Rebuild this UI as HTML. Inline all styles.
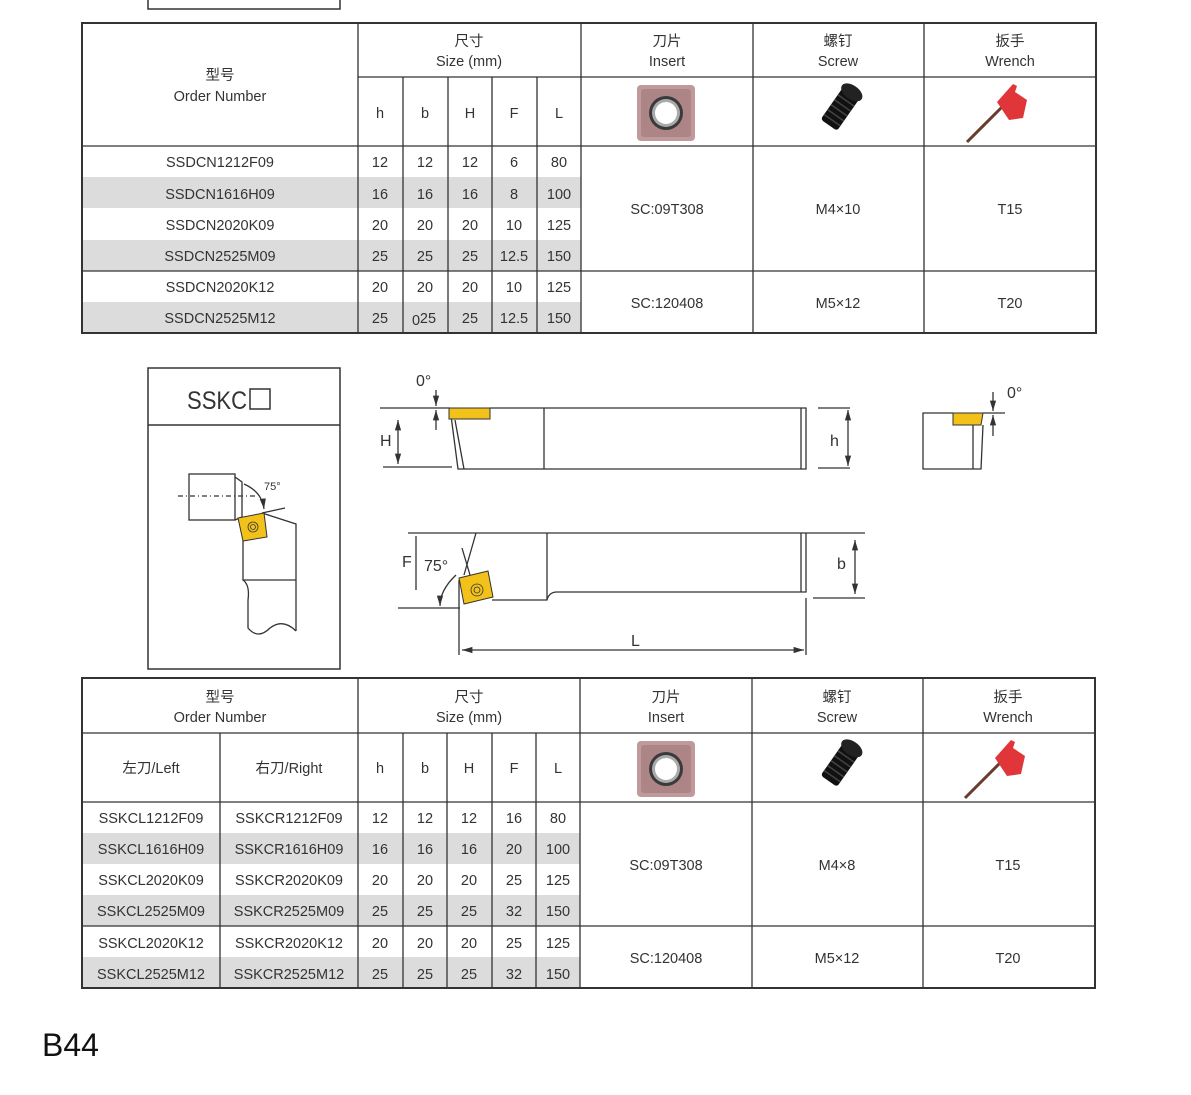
<!DOCTYPE html>
<html><head><meta charset="utf-8"><style>
html,body{margin:0;padding:0;background:#fff;}
svg{display:block}
text{font-family:"Liberation Sans","Noto Sans CJK SC",sans-serif;fill:#333;font-size:14.5px;}
</style></head><body>
<svg width="1191" height="1095" viewBox="0 0 1191 1095" xmlns="http://www.w3.org/2000/svg">
<defs>
<marker id="ar" viewBox="0 0 10 10" refX="10" refY="5" markerWidth="8" markerHeight="8" orient="auto-start-reverse"><path d="M0,2 L10,5 L0,8 z" fill="#333"/></marker>
<g id="insert">
<rect x="-29" y="-28" width="58" height="56" rx="4" fill="#c09a9b"/>
<rect x="-25" y="-24" width="50" height="48" rx="3" fill="#ae8586"/>
<circle r="17" fill="#3a3a3a"/><circle r="14" fill="#aaa"/><circle r="11" fill="#fff"/>
</g>
<g id="screw">
<g transform="rotate(35)">
<rect x="-10" y="-24" width="20" height="40" rx="3" fill="#111"/>
<ellipse cx="0" cy="-24" rx="12" ry="7" fill="#222"/>
<path d="M-10,-14 H10 M-10,-8 H10 M-10,-2 H10 M-10,4 H10 M-10,10 H10" stroke="#444" stroke-width="1.5"/>
</g></g>
<g id="wrench">
<line x1="-38" y1="30" x2="-2" y2="-6" stroke="#6a3a2a" stroke-width="3"/>
<path d="M-8,-10 L8,-28 L12,-26 L10,-20 L22,-12 L18,6 L4,8 z" fill="#e0363a"/>
</g>
</defs>

<path d="M148,0 V9 H340 V0" fill="none" stroke="#333" stroke-width="1.5"/>

<!-- TABLE 1 -->
<rect x="82" y="177" width="499" height="31" fill="#dcdcdc"/>
<rect x="82" y="240" width="499" height="31" fill="#dcdcdc"/>
<rect x="82" y="302" width="499" height="31" fill="#dcdcdc"/>
<g stroke="#333" stroke-width="1.3" fill="none">
<rect x="82" y="23" width="1014" height="310" stroke-width="2"/>
<line x1="358" y1="77" x2="1096" y2="77"/>
<line x1="82" y1="146" x2="1096" y2="146"/>
<line x1="82" y1="271" x2="1096" y2="271"/>
<line x1="358" y1="23" x2="358" y2="333"/>
<line x1="403" y1="77" x2="403" y2="333"/>
<line x1="448" y1="77" x2="448" y2="333"/>
<line x1="492" y1="77" x2="492" y2="333"/>
<line x1="537" y1="77" x2="537" y2="333"/>
<line x1="581" y1="23" x2="581" y2="333"/>
<line x1="753" y1="23" x2="753" y2="333"/>
<line x1="924" y1="23" x2="924" y2="333"/>
</g>
<g text-anchor="middle">
<text x="220" y="80">型号</text><text x="220" y="101">Order Number</text>
<text x="469" y="46">尺寸</text><text x="469" y="66">Size  (mm)</text>
<text x="667" y="46">刀片</text><text x="667" y="66">Insert</text>
<text x="838" y="46">螺钉</text><text x="838" y="66">Screw</text>
<text x="1010" y="46">扳手</text><text x="1010" y="66">Wrench</text>
<text x="380" y="118">h</text><text x="425" y="118">b</text><text x="470" y="118">H</text><text x="514" y="118">F</text><text x="559" y="118">L</text>
<text x="220" y="167">SSDCN1212F09</text><text x="380" y="167">12</text><text x="425" y="167">12</text><text x="470" y="167">12</text><text x="514" y="167">6</text><text x="559" y="167">80</text>
<text x="220" y="199">SSDCN1616H09</text><text x="380" y="199">16</text><text x="425" y="199">16</text><text x="470" y="199">16</text><text x="514" y="199">8</text><text x="559" y="199">100</text>
<text x="220" y="230">SSDCN2020K09</text><text x="380" y="230">20</text><text x="425" y="230">20</text><text x="470" y="230">20</text><text x="514" y="230">10</text><text x="559" y="230">125</text>
<text x="220" y="261">SSDCN2525M09</text><text x="380" y="261">25</text><text x="425" y="261">25</text><text x="470" y="261">25</text><text x="514" y="261">12.5</text><text x="559" y="261">150</text>
<text x="220" y="292">SSDCN2020K12</text><text x="380" y="292">20</text><text x="425" y="292">20</text><text x="470" y="292">20</text><text x="514" y="292">10</text><text x="559" y="292">125</text>
<text x="220" y="323">SSDCN2525M12</text><text x="380" y="323">25</text><text x="416" y="325">0</text><text x="428" y="323">25</text><text x="470" y="323">25</text><text x="514" y="323">12.5</text><text x="559" y="323">150</text>
<text x="667" y="214">SC:09T308</text><text x="838" y="214">M4×10</text><text x="1010" y="214">T15</text>
<text x="667" y="308">SC:120408</text><text x="838" y="308">M5×12</text><text x="1010" y="308">T20</text>
</g>
<use href="#insert" x="666" y="113"/>
<use href="#screw" x="838" y="112"/>
<use href="#wrench" x="1005" y="112"/>

<!-- SIDE BOX -->
<g stroke="#333" fill="none" stroke-width="1.5">
<rect x="148" y="368" width="192" height="301"/>
<line x1="148" y1="425" x2="340" y2="425"/>
</g>
<text x="187" y="409" textLength="60" lengthAdjust="spacingAndGlyphs" style="font-size:25px">SSKC</text>
<rect x="250" y="389" width="20" height="20" fill="none" stroke="#333" stroke-width="1.5"/>
<g stroke="#333" fill="none" stroke-width="1.3">
<rect x="189" y="474" width="46" height="46"/>
<path d="M235,477 L242,482 L242,517 L235,520"/>
<line x1="178" y1="496" x2="258" y2="496" stroke-dasharray="5,3,1,3"/>
<path d="M262,513 L296,524 V631"/>
<line x1="262" y1="513" x2="285" y2="508"/>
<path d="M243,541 V580 H296"/>
<path d="M243,580 Q250,585 248,600 V628 Q258,640 270,628 Q283,618 296,631"/>
<path d="M244,484 Q262,492 264,509" marker-end="url(#ar)"/>
</g>
<path d="M238,518 L264,513 L267,537 L243,541 z" fill="#f2c21b" stroke="#333" stroke-width="1"/>
<circle cx="253" cy="527" r="5" fill="none" stroke="#333" stroke-width="0.8"/><circle cx="253" cy="527" r="2.5" fill="none" stroke="#333" stroke-width="0.8"/>
<text x="264" y="490" style="font-size:11px">75°</text>

<!-- TOP VIEW -->
<g stroke="#333" fill="none" stroke-width="1.3">
<path d="M490,408 H806 V469 H458 L450,408"/>
<line x1="455" y1="420" x2="464" y2="469"/>
<line x1="544" y1="408" x2="544" y2="469"/>
<line x1="801" y1="408" x2="801" y2="469"/>
<line x1="380" y1="408" x2="450" y2="408"/>
<line x1="383" y1="467" x2="452" y2="467"/>
<line x1="398" y1="420" x2="398" y2="464" marker-start="url(#ar)" marker-end="url(#ar)"/>
<line x1="436" y1="390" x2="436" y2="406" marker-end="url(#ar)"/>
<line x1="436" y1="430" x2="436" y2="410" marker-end="url(#ar)"/>
<line x1="818" y1="408" x2="850" y2="408"/>
<line x1="818" y1="468" x2="850" y2="468"/>
<line x1="848" y1="410" x2="848" y2="466" marker-start="url(#ar)" marker-end="url(#ar)"/>
</g>
<rect x="449" y="408" width="41" height="11" fill="#f2c21b" stroke="#333" stroke-width="1"/>
<text x="416" y="386" style="font-size:16px">0°</text>
<text x="380" y="446" style="font-size:16px">H</text>
<text x="830" y="446" style="font-size:16px">h</text>

<!-- SMALL RIGHT VIEW -->
<g stroke="#333" fill="none" stroke-width="1.3">
<path d="M953,413 H923 V469 H981 L983,425"/>
<line x1="973" y1="425" x2="973" y2="469"/>
<line x1="983" y1="413" x2="1005" y2="413"/>
<line x1="993" y1="392" x2="993" y2="411" marker-end="url(#ar)"/>
<line x1="993" y1="436" x2="993" y2="415" marker-end="url(#ar)"/>
</g>
<path d="M953,413 H983 L981,425 H953 z" fill="#f2c21b" stroke="#333" stroke-width="1"/>
<text x="1007" y="398" style="font-size:16px">0°</text>

<!-- BOTTOM VIEW -->
<g stroke="#333" fill="none" stroke-width="1.3">
<line x1="408" y1="533" x2="806" y2="533"/>
<path d="M476,533 L464,575"/>
<line x1="462" y1="548" x2="470" y2="575"/>
<line x1="547" y1="533" x2="547" y2="600"/>
<path d="M492,600 H547 Q549,592 557,592 H806 V533"/>
<line x1="801" y1="533" x2="801" y2="592"/>
<line x1="806" y1="533" x2="865" y2="533"/>
<line x1="813" y1="598" x2="865" y2="598"/>
<line x1="855" y1="540" x2="855" y2="594" marker-start="url(#ar)" marker-end="url(#ar)"/>
<line x1="398" y1="608" x2="460" y2="608"/>
<line x1="416" y1="536" x2="416" y2="590"/>
<path d="M456,575 Q440,590 440,606" marker-end="url(#ar)"/>
<line x1="459" y1="580" x2="459" y2="655"/>
<line x1="806" y1="598" x2="806" y2="655"/>
<line x1="462" y1="650" x2="804" y2="650" marker-start="url(#ar)" marker-end="url(#ar)"/>
</g>
<path d="M459,578 L488,571 L493,597 L464,604 z" fill="#f2c21b" stroke="#333" stroke-width="1"/>
<circle cx="477" cy="590" r="6" fill="none" stroke="#333" stroke-width="0.8"/><circle cx="477" cy="590" r="3" fill="none" stroke="#333" stroke-width="0.8"/>
<text x="402" y="567" style="font-size:16px">F</text>
<text x="424" y="571" style="font-size:16px">75°</text>
<text x="837" y="569" style="font-size:16px">b</text>
<text x="631" y="646" style="font-size:16px">L</text>

<!-- TABLE 2 -->
<rect x="82" y="833" width="498" height="31" fill="#dcdcdc"/>
<rect x="82" y="895" width="498" height="31" fill="#dcdcdc"/>
<rect x="82" y="957" width="498" height="31" fill="#dcdcdc"/>
<g stroke="#333" stroke-width="1.3" fill="none">
<rect x="82" y="678" width="1013" height="310" stroke-width="2"/>
<line x1="82" y1="733" x2="1095" y2="733"/>
<line x1="82" y1="802" x2="1095" y2="802"/>
<line x1="82" y1="926" x2="1095" y2="926"/>
<line x1="220" y1="733" x2="220" y2="988"/>
<line x1="358" y1="678" x2="358" y2="988"/>
<line x1="403" y1="733" x2="403" y2="988"/>
<line x1="447" y1="733" x2="447" y2="988"/>
<line x1="492" y1="733" x2="492" y2="988"/>
<line x1="536" y1="733" x2="536" y2="988"/>
<line x1="580" y1="678" x2="580" y2="988"/>
<line x1="752" y1="678" x2="752" y2="988"/>
<line x1="923" y1="678" x2="923" y2="988"/>
</g>
<g text-anchor="middle">
<text x="220" y="702">型号</text><text x="220" y="722">Order Number</text>
<text x="469" y="702">尺寸</text><text x="469" y="722">Size  (mm)</text>
<text x="666" y="702">刀片</text><text x="666" y="722">Insert</text>
<text x="837" y="702">螺钉</text><text x="837" y="722">Screw</text>
<text x="1008" y="702">扳手</text><text x="1008" y="722">Wrench</text>
<text x="151" y="773">左刀/Left</text><text x="289" y="773">右刀/Right</text>
<text x="380" y="773">h</text><text x="425" y="773">b</text><text x="469" y="773">H</text><text x="514" y="773">F</text><text x="558" y="773">L</text>
<text x="151" y="823">SSKCL1212F09</text><text x="289" y="823">SSKCR1212F09</text><text x="380" y="823">12</text><text x="425" y="823">12</text><text x="469" y="823">12</text><text x="514" y="823">16</text><text x="558" y="823">80</text>
<text x="151" y="854">SSKCL1616H09</text><text x="289" y="854">SSKCR1616H09</text><text x="380" y="854">16</text><text x="425" y="854">16</text><text x="469" y="854">16</text><text x="514" y="854">20</text><text x="558" y="854">100</text>
<text x="151" y="885">SSKCL2020K09</text><text x="289" y="885">SSKCR2020K09</text><text x="380" y="885">20</text><text x="425" y="885">20</text><text x="469" y="885">20</text><text x="514" y="885">25</text><text x="558" y="885">125</text>
<text x="151" y="916">SSKCL2525M09</text><text x="289" y="916">SSKCR2525M09</text><text x="380" y="916">25</text><text x="425" y="916">25</text><text x="469" y="916">25</text><text x="514" y="916">32</text><text x="558" y="916">150</text>
<text x="151" y="948">SSKCL2020K12</text><text x="289" y="948">SSKCR2020K12</text><text x="380" y="948">20</text><text x="425" y="948">20</text><text x="469" y="948">20</text><text x="514" y="948">25</text><text x="558" y="948">125</text>
<text x="151" y="979">SSKCL2525M12</text><text x="289" y="979">SSKCR2525M12</text><text x="380" y="979">25</text><text x="425" y="979">25</text><text x="469" y="979">25</text><text x="514" y="979">32</text><text x="558" y="979">150</text>
<text x="666" y="870">SC:09T308</text><text x="837" y="870">M4×8</text><text x="1008" y="870">T15</text>
<text x="666" y="963">SC:120408</text><text x="837" y="963">M5×12</text><text x="1008" y="963">T20</text>
</g>
<use href="#insert" x="666" y="769"/>
<use href="#screw" x="838" y="768"/>
<use href="#wrench" x="1003" y="768"/>

<text x="42" y="1056" style="font-size:32px;fill:#111">B44</text>
</svg>
</body></html>
